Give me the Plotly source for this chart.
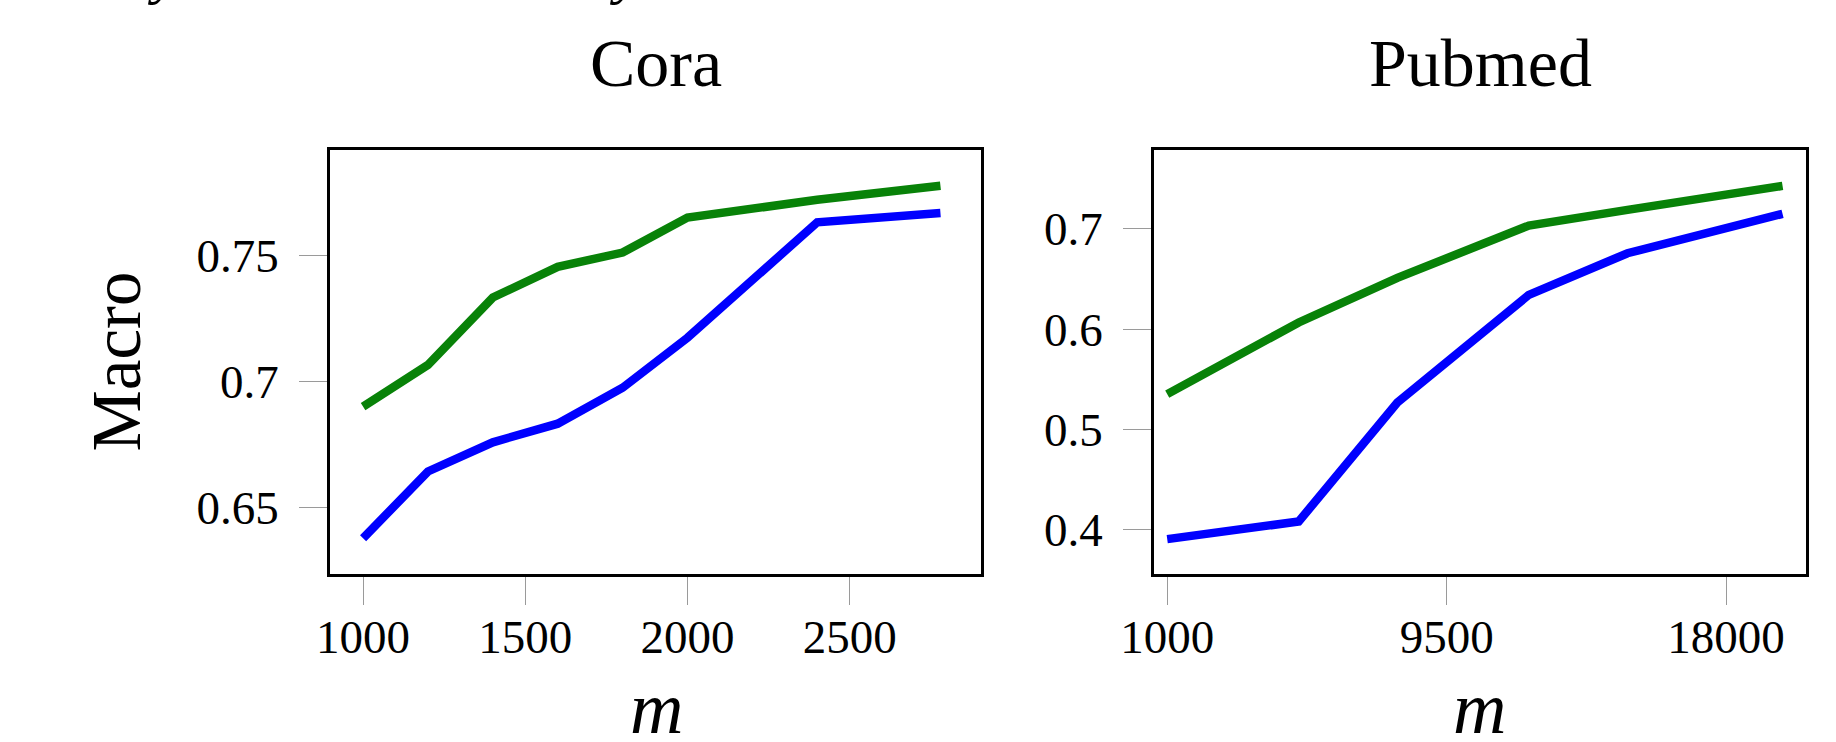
import plotly.graph_objects as go

W, H = 1836, 742

# ---- data ----
cora_m = [1000, 1200, 1400, 1600, 1800, 2000, 2400, 2780]
cora_green = [0.690, 0.7066, 0.7334, 0.7456, 0.7513, 0.7652, 0.7723, 0.7779]
cora_blue = [0.6376, 0.6642, 0.6758, 0.6832, 0.6975, 0.7174, 0.7633, 0.7670]

pubmed_m = [1000, 5000, 8000, 12000, 15000, 19717]
pubmed_green = [0.5351, 0.6066, 0.6511, 0.7033, 0.7190, 0.7429]
pubmed_blue = [0.3904, 0.4080, 0.5267, 0.6342, 0.6757, 0.7150]

cora_xticks = [1000, 1500, 2000, 2500]
cora_xtick_text = ["1000", "1500", "2000", "2500"]
cora_yticks = [0.65, 0.7, 0.75]
cora_ytick_text = ["0.65", "0.7", "0.75"]
pubmed_xticks = [1000, 9500, 18000]
pubmed_xtick_text = ["1000", "9500", "18000"]
pubmed_yticks = [0.4, 0.5, 0.6, 0.7]
pubmed_ytick_text = ["0.4", "0.5", "0.6", "0.7"]

titles = ["Cora", "Pubmed"]
y_title = "Macro"
x_title = "m"

GREEN = "rgb(8,130,8)"
BLUE = "rgb(0,0,255)"
LW = 8.5

def px_x(p):
    return p / W

def px_y(p):
    return 1 - p / H

fig = go.Figure()

fig.add_trace(go.Scatter(x=cora_m, y=cora_green, mode="lines",
                         line=dict(color=GREEN, width=LW), xaxis="x", yaxis="y", showlegend=False))
fig.add_trace(go.Scatter(x=cora_m, y=cora_blue, mode="lines",
                         line=dict(color=BLUE, width=LW), xaxis="x", yaxis="y", showlegend=False))
fig.add_trace(go.Scatter(x=pubmed_m, y=pubmed_green, mode="lines",
                         line=dict(color=GREEN, width=LW), xaxis="x2", yaxis="y2", showlegend=False))
fig.add_trace(go.Scatter(x=pubmed_m, y=pubmed_blue, mode="lines",
                         line=dict(color=BLUE, width=LW), xaxis="x2", yaxis="y2", showlegend=False))

tickfont = dict(family="Liberation Serif", size=47, color="black")
common_axis = dict(showline=True, linecolor="black", linewidth=2.7, mirror=True,
                   ticks="outside", ticklen=28, tickwidth=1.3, tickcolor="#9a9a9a",
                   showgrid=False, zeroline=False, tickfont=tickfont, automargin=False)

ydom = [px_y(574), px_y(150)]
fig.update_layout(
    template="none",
    width=W, height=H,
    margin=dict(l=0, r=0, t=0, b=0, pad=0),
    paper_bgcolor="white", plot_bgcolor="white",
    showlegend=False,
    xaxis=dict(domain=[px_x(330), px_x(981)], range=[898, 2905], tickvals=cora_xticks,
               ticktext=cora_xtick_text, anchor="y", ticklabelstandoff=-8, **common_axis),
    yaxis=dict(domain=ydom, range=[0.6234, 0.7921], tickvals=cora_yticks,
               ticktext=cora_ytick_text, anchor="x", ticklabelstandoff=11, **common_axis),
    xaxis2=dict(domain=[px_x(1154), px_x(1806)], range=[598, 20430], tickvals=pubmed_xticks,
                ticktext=pubmed_xtick_text, anchor="y2", ticklabelstandoff=-8, **common_axis),
    yaxis2=dict(domain=ydom, range=[0.3556, 0.7787], tickvals=pubmed_yticks,
                ticktext=pubmed_ytick_text, anchor="x2", ticklabelstandoff=11, **common_axis),
)

serif = "Liberation Serif"
ann = []
# panel titles
for t, cx in zip(titles, [655.5, 1480]):
    ann.append(dict(text=t, x=px_x(cx), y=px_y(86 - 0.34 * 68), xref="paper", yref="paper",
                    xanchor="center", yanchor="middle", showarrow=False,
                    font=dict(family=serif, size=68, color="black")))
# x axis titles
for cx in [656, 1479]:
    ann.append(dict(text="<i>%s</i>" % x_title, x=px_x(cx), y=px_y(733 - 0.34 * 74),
                    xref="paper", yref="paper", xanchor="center", yanchor="middle",
                    showarrow=False, font=dict(family=serif, size=74, color="black")))
# y axis title
ann.append(dict(text=y_title, x=px_x(140 - 0.34 * 69), y=px_y(362), xref="paper", yref="paper",
                xanchor="center", yanchor="middle", textangle=-90, showarrow=False,
                font=dict(family=serif, size=69, color="black")))
# cut-off caption text at the very top
for cx in [163, 625]:
    ann.append(dict(text="<i>y</i>", x=px_x(cx), y=px_y(-6 + 0.216 * 60), xref="paper", yref="paper",
                    xanchor="center", yanchor="bottom", showarrow=False,
                    font=dict(family=serif, size=60, color="black")))
fig.update_layout(annotations=ann)

fig.write_html("out.html", config={"displayModeBar": False},
               post_script="document.body.style.margin='0';")
